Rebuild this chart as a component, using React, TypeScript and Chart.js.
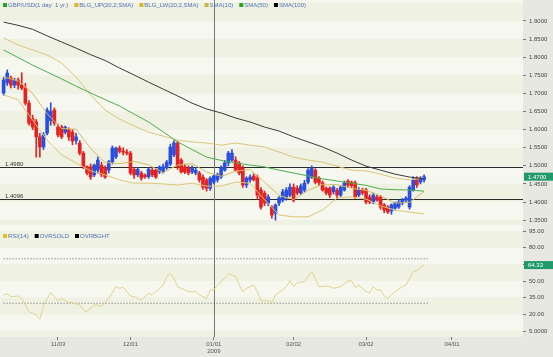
import React, { useEffect, useRef } from 'react';
import { Chart, registerables } from 'chart.js';

Chart.register(...registerables);

// ---------- DATA ----------
// Trading-day index 0 = 13 Oct 2008
const opens = [
  1.701, 1.729, 1.742, 1.723, 1.737, 1.723, 1.715, 1.673, 1.630, 1.621,
  1.580, 1.552, 1.590, 1.625, 1.654, 1.607, 1.607, 1.593, 1.599, 1.593,
  1.570, 1.563, 1.535, 1.497, 1.497, 1.475, 1.488, 1.502, 1.494, 1.488,
  1.511, 1.525, 1.549, 1.540, 1.538, 1.535, 1.490, 1.475, 1.480, 1.474,
  1.470, 1.488, 1.488, 1.483, 1.483, 1.494, 1.505, 1.530, 1.563, 1.516,
  1.497, 1.494, 1.483, 1.480, 1.480, 1.469, 1.461, 1.438, 1.455, 1.461,
  1.469, 1.488, 1.508, 1.516, 1.516, 1.508, 1.494, 1.447, 1.461, 1.472,
  1.466, 1.433, 1.424, 1.397, 1.386, 1.369, 1.397, 1.405, 1.411, 1.419,
  1.441, 1.438, 1.425, 1.433, 1.455, 1.469, 1.488, 1.466, 1.453, 1.438,
  1.438, 1.428, 1.433, 1.419, 1.433, 1.458, 1.455, 1.453, 1.419, 1.433,
  1.433, 1.414, 1.400, 1.414, 1.414, 1.392, 1.386, 1.375, 1.383, 1.386,
  1.397, 1.405, 1.386, 1.433, 1.466, 1.455, 1.461,
];
const highs = [
  1.745, 1.765, 1.748, 1.742, 1.742, 1.757, 1.728, 1.680, 1.640, 1.628,
  1.590, 1.592, 1.660, 1.674, 1.660, 1.615, 1.612, 1.610, 1.605, 1.600,
  1.590, 1.570, 1.540, 1.500, 1.505, 1.505, 1.525, 1.510, 1.500, 1.515,
  1.555, 1.552, 1.555, 1.550, 1.545, 1.540, 1.495, 1.495, 1.485, 1.478,
  1.495, 1.495, 1.492, 1.500, 1.505, 1.515, 1.560, 1.570, 1.568, 1.520,
  1.505, 1.500, 1.500, 1.495, 1.485, 1.475, 1.465, 1.470, 1.475, 1.480,
  1.500, 1.515, 1.540, 1.545, 1.525, 1.512, 1.500, 1.470, 1.475, 1.478,
  1.475, 1.440, 1.430, 1.420, 1.390, 1.395, 1.415, 1.435, 1.440, 1.450,
  1.450, 1.445, 1.450, 1.460, 1.492, 1.500, 1.492, 1.470, 1.458, 1.442,
  1.442, 1.445, 1.438, 1.445, 1.458, 1.462, 1.458, 1.458, 1.440, 1.438,
  1.438, 1.420, 1.425, 1.420, 1.418, 1.396, 1.390, 1.395, 1.400, 1.405,
  1.410, 1.415, 1.445, 1.470, 1.470, 1.470, 1.475,
];
const lows = [
  1.695, 1.722, 1.715, 1.716, 1.712, 1.710, 1.668, 1.612, 1.600, 1.524,
  1.524, 1.545, 1.585, 1.612, 1.612, 1.580, 1.575, 1.588, 1.570, 1.558,
  1.560, 1.530, 1.492, 1.475, 1.462, 1.470, 1.480, 1.470, 1.465, 1.480,
  1.505, 1.520, 1.535, 1.530, 1.530, 1.475, 1.465, 1.470, 1.460, 1.465,
  1.465, 1.470, 1.465, 1.478, 1.480, 1.490, 1.500, 1.525, 1.490, 1.480,
  1.478, 1.475, 1.478, 1.475, 1.455, 1.435, 1.430, 1.432, 1.450, 1.455,
  1.465, 1.485, 1.500, 1.512, 1.485, 1.475, 1.440, 1.440, 1.455, 1.458,
  1.410, 1.380, 1.390, 1.390, 1.355, 1.350, 1.390, 1.400, 1.405, 1.415,
  1.400, 1.420, 1.420, 1.428, 1.450, 1.465, 1.450, 1.445, 1.430, 1.420,
  1.412, 1.422, 1.410, 1.415, 1.430, 1.440, 1.440, 1.410, 1.415, 1.420,
  1.395, 1.395, 1.395, 1.402, 1.380, 1.370, 1.368, 1.366, 1.378, 1.382,
  1.392, 1.398, 1.380, 1.430, 1.440, 1.450, 1.455,
];
const closes = [
  1.737, 1.756, 1.723, 1.735, 1.723, 1.715, 1.673, 1.618, 1.607, 1.580,
  1.552, 1.585, 1.654, 1.650, 1.618, 1.585, 1.580, 1.607, 1.580, 1.568,
  1.580, 1.535, 1.497, 1.480, 1.469, 1.502, 1.516, 1.475, 1.469, 1.511,
  1.549, 1.549, 1.540, 1.538, 1.535, 1.480, 1.475, 1.490, 1.466, 1.470,
  1.491, 1.475, 1.469, 1.497, 1.497, 1.510, 1.552, 1.563, 1.497, 1.483,
  1.483, 1.480, 1.494, 1.488, 1.461, 1.441, 1.438, 1.466, 1.472, 1.475,
  1.494, 1.508, 1.535, 1.535, 1.488, 1.480, 1.447, 1.466, 1.469, 1.461,
  1.419, 1.386, 1.397, 1.414, 1.364, 1.392, 1.411, 1.428, 1.433, 1.441,
  1.405, 1.425, 1.444, 1.452, 1.488, 1.494, 1.455, 1.453, 1.433, 1.425,
  1.419, 1.441, 1.419, 1.441, 1.452, 1.447, 1.445, 1.414, 1.433, 1.425,
  1.400, 1.400, 1.419, 1.405, 1.386, 1.378, 1.372, 1.392, 1.397, 1.400,
  1.405, 1.411, 1.441, 1.461, 1.447, 1.466, 1.470,
];

// Indicator readings (read every 4th trading day)
const lineIdx = [
  0, 4, 8, 12, 16, 20, 24, 28, 32, 36, 40, 44, 48, 52, 56,
  60, 64, 68, 72, 76, 80, 84, 88, 92, 96, 100, 104, 108, 112, 116,
];
const bbUpper = [
  1.853, 1.834, 1.820, 1.806, 1.784, 1.745, 1.696, 1.654, 1.629, 1.610,
  1.593, 1.582, 1.571, 1.566, 1.563, 1.557, 1.563, 1.557, 1.552, 1.538,
  1.524, 1.516, 1.510, 1.499, 1.488, 1.486, 1.477, 1.466, 1.461, 1.466,
];
const bbLower = [
  1.696, 1.682, 1.626, 1.571, 1.530, 1.508, 1.486, 1.475, 1.461, 1.452,
  1.452, 1.450, 1.447, 1.452, 1.444, 1.444, 1.455, 1.452, 1.406, 1.364,
  1.359, 1.359, 1.378, 1.411, 1.414, 1.408, 1.389, 1.378, 1.372, 1.367,
];
const sma10 = [
  1.745, 1.735, 1.700, 1.644, 1.603, 1.601, 1.548, 1.509, 1.506, 1.512,
  1.503, 1.481, 1.502, 1.506, 1.483, 1.471, 1.485, 1.490, 1.455, 1.418,
  1.407, 1.432, 1.449, 1.448, 1.438, 1.432, 1.417, 1.397, 1.399, 1.429,
];
const sma50 = [
  1.820, 1.799, 1.778, 1.759, 1.740, 1.720, 1.701, 1.683, 1.665, 1.643,
  1.621, 1.594, 1.566, 1.545, 1.524, 1.515, 1.508, 1.502, 1.497, 1.488,
  1.480, 1.472, 1.464, 1.458, 1.452, 1.446, 1.436, 1.434, 1.433, 1.430,
];
const sma100 = [
  1.897, 1.888, 1.877, 1.859, 1.842, 1.825, 1.807, 1.791, 1.770, 1.751,
  1.731, 1.712, 1.693, 1.673, 1.657, 1.646, 1.632, 1.621, 1.607, 1.596,
  1.580, 1.566, 1.552, 1.535, 1.516, 1.499, 1.488, 1.477, 1.469, 1.464,
];

const rsiIdx = [
  0, 1, 2, 4, 5, 6, 7, 9, 10, 11, 13, 14, 15, 16, 18, 19, 21, 22, 23, 25,
  26, 27, 29, 31, 32, 33, 35, 36, 37, 38, 40, 41, 43, 44, 45, 46, 47, 48, 50, 51,
  53, 54, 56, 57, 58, 59, 61, 62, 64, 65, 66, 67, 69, 70, 71, 73, 74, 75, 77, 78,
  79, 80, 81, 83, 85, 86, 87, 89, 90, 91, 93, 95, 96, 97, 98, 100, 101, 102, 103, 104,
  105, 106, 107, 108, 110, 111, 113, 114, 115, 116,
];
const rsiVals = [
  37.4, 38.3, 35.9, 36.5, 34.4, 28.4, 22.4, 19.4, 15.5, 28.4, 39.5, 35.9, 32.3, 34.4, 30.5, 30.5, 28.4, 23.9, 22.4, 28.4,
  28.4, 26.9, 34.4, 44.9, 43.4, 44.3, 36.5, 35.9, 34.4, 32.9, 38.9, 37.4, 43.4, 46.4, 53.9, 56.9, 52.4, 44.9, 41.9, 40.4,
  40.4, 37.4, 34.4, 41.9, 41.9, 46.4, 52.4, 56.9, 53.9, 46.4, 40.4, 43.4, 46.4, 40.4, 32.3, 32.3, 30.5, 37.4, 41.9, 44.9,
  50.2, 44.9, 48.5, 49.4, 58.4, 52.4, 44.9, 45.5, 44.9, 43.4, 44.9, 50.0, 50.2, 44.3, 46.4, 40.4, 39.5, 44.9, 41.9, 41.9,
  36.5, 34.4, 37.4, 40.4, 44.9, 46.4, 58.4, 59.2, 62.3, 64.33,
];

const overbought = 70;
const oversold = 30;
const levelValues = [1.498, 1.4096];
const levelLabels = ['1.4980', '1.4096'];

const xTickPos = [15, 35, 58, 80, 100, 123.7];
const xTickLabels = ['11/03', '12/01', '01/01', '02/02', '03/02', '04/01'];
const yearTickPos = 58;
const yearLabel = '2009';

const priceTicks = [1.35, 1.4, 1.45, 1.5, 1.55, 1.6, 1.65, 1.7, 1.75, 1.8, 1.85, 1.9];
const priceTickLabels = ['1.3500', '1.4000', '1.4500', '1.5000', '1.5500', '1.6000', '1.6500', '1.7000', '1.7500', '1.8000', '1.8500', '1.9000'];
const rsiTicks = [5, 20, 35, 50, 65, 80, 95];
const rsiTickLabels = ['5.0000', '20.00', '35.00', '50.00', '65.00', '80.00', '95.00'];

const priceLegend = ['GBP/USD(1 day  1 yr.)', 'BLG_UP(20,2,SMA)', 'BLG_LW(20,2,SMA)', 'SMA(10)', 'SMA(50)', 'SMA(100)'];
const rsiLegend = ['RSI(14)', 'OVRSOLD', 'OVRBGHT'];

// ---------- STYLE ----------
const FONT = "'Liberation Sans', Arial, sans-serif";
const UP = '#2a4fe0';
const DOWN = '#e42222';
const GOLD = '#dcc679';
const GOLD10 = '#d4bd62';
const GREEN = '#4cb04c';
const DARK = '#3a3a3a';
const RSI_COL = '#e2d48e';
const OUTER = '#e8e8e2';
const BAND_A = '#eff1e3';
const BAND_B = '#f6f7ee';
const LEG_TEXT = '#4f74b8';
const BOX = '#22996b';

const priceLegendColors = ['#22a622', '#d8b52a', '#d8b52a', '#c9b444', '#22a622', '#000000'];
const rsiLegendColors = ['#e0c020', '#000000', '#000000'];

const noPad = (s: any) => {
  s.paddingTop = 0;
  s.paddingBottom = 0;
  s.paddingLeft = 0;
  s.paddingRight = 0;
};

export default function App() {
  const ref = useRef<HTMLCanvasElement>(null);

  useEffect(() => {
    document.body.style.margin = '0';
    const canvas = ref.current!;
    const candleColors = closes.map((c, i) => (c >= opens[i] ? UP : DOWN));
    const pts = (vals: number[]) => vals.map((v, k) => ({ x: lineIdx[k], y: v }));

    const decor = {
      id: 'decor',
      beforeDraw(chart: any) {
        const { ctx, chartArea: ca, scales } = chart;
        const y = scales.y;
        const y2 = scales.y2;
        const x = scales.x;
        ctx.save();
        ctx.fillStyle = OUTER;
        ctx.fillRect(0, 0, chart.width, chart.height);
        for (let k = 0; k < 20; k++) {
          const lo = 1.3 + k * 0.05;
          const hi = lo + 0.05;
          const top = Math.max(y.top, y.getPixelForValue(hi));
          const bot = Math.min(y.bottom, y.getPixelForValue(lo));
          if (bot > top) {
            ctx.fillStyle = k % 2 === 0 ? BAND_A : BAND_B;
            ctx.fillRect(ca.left, top, ca.right - ca.left, bot - top);
          }
        }
        for (let k = 0; k < 10; k++) {
          const lo = -10 + k * 15;
          const hi = lo + 15;
          const top = Math.max(y2.top, y2.getPixelForValue(hi));
          const bot = Math.min(y2.bottom, y2.getPixelForValue(lo));
          if (bot > top) {
            ctx.fillStyle = k % 2 === 0 ? BAND_A : BAND_B;
            ctx.fillRect(ca.left, top, ca.right - ca.left, bot - top);
          }
        }
        ctx.strokeStyle = '#2a2a2a';
        ctx.lineWidth = 1;
        ctx.font = `6px ${FONT}`;
        ctx.fillStyle = '#333';
        levelValues.forEach((v, k) => {
          const py = Math.round(y.getPixelForValue(v)) + 0.5;
          ctx.beginPath();
          ctx.moveTo(ca.left, py);
          ctx.lineTo(ca.right, py);
          ctx.stroke();
          ctx.textBaseline = 'alphabetic';
          ctx.fillText(levelLabels[k], ca.left + 5, py - 2);
        });
        const vx = Math.round(x.getPixelForValue(yearTickPos)) + 0.5;
        ctx.strokeStyle = '#777';
        ctx.beginPath();
        ctx.moveTo(vx, ca.top);
        ctx.lineTo(vx, ca.bottom);
        ctx.stroke();
        ctx.restore();
      },
      afterDraw(chart: any) {
        const { ctx, chartArea: ca, scales } = chart;
        const y = scales.y;
        const y2 = scales.y2;
        ctx.save();
        ctx.font = `6px ${FONT}`;
        ctx.textBaseline = 'middle';
        const drawLegend = (labels: string[], colors: string[], top: number) => {
          let lx = 3;
          labels.forEach((lab, k) => {
            ctx.fillStyle = colors[k];
            ctx.fillRect(lx, top - 2, 4, 4);
            ctx.fillStyle = LEG_TEXT;
            ctx.fillText(lab, lx + 5, top);
            lx += 5 + ctx.measureText(lab).width + 6;
          });
        };
        drawLegend(priceLegend, priceLegendColors, 5);
        drawLegend(rsiLegend, rsiLegendColors, y2.top + 11);
        const box = (py: number, text: string) => {
          ctx.fillStyle = BOX;
          ctx.fillRect(ca.right + 1, py - 4, chart.width - ca.right - 1, 8);
          ctx.fillStyle = '#ffffff';
          ctx.fillText(text, ca.right + 5, py + 0.5);
        };
        box(y.getPixelForValue(closes[closes.length - 1]), closes[closes.length - 1].toFixed(4));
        box(y2.getPixelForValue(rsiVals[rsiVals.length - 1]), rsiVals[rsiVals.length - 1].toFixed(2));
        ctx.restore();
      },
    };

    const tickFont = { size: 6, family: FONT };

    const chart = new Chart(canvas, {
      type: 'line',
      data: {
        datasets: [
          { type: 'line', label: 'SMA(100)', data: pts(sma100), borderColor: DARK, borderWidth: 1, pointRadius: 0, yAxisID: 'y', order: 1 },
          { type: 'line', label: 'SMA(50)', data: pts(sma50), borderColor: GREEN, borderWidth: 1, pointRadius: 0, yAxisID: 'y', order: 2 },
          { type: 'line', label: 'SMA(10)', data: pts(sma10), borderColor: GOLD10, borderWidth: 1, pointRadius: 0, yAxisID: 'y', order: 3 },
          { type: 'line', label: 'BLG_UP', data: pts(bbUpper), borderColor: GOLD, borderWidth: 1, pointRadius: 0, yAxisID: 'y', order: 4 },
          { type: 'line', label: 'BLG_LW', data: pts(bbLower), borderColor: GOLD, borderWidth: 1, pointRadius: 0, yAxisID: 'y', order: 5 },
          {
            type: 'bar', label: 'body',
            data: opens.map((o, i) => ({ x: i, y: [o, closes[i]] })),
            backgroundColor: candleColors, borderWidth: 0, barThickness: 3, minBarLength: 1,
            grouped: false, yAxisID: 'y', order: 8,
          },
          {
            type: 'bar', label: 'wick',
            data: lows.map((l, i) => ({ x: i, y: [l, highs[i]] })),
            backgroundColor: candleColors, borderWidth: 0, barThickness: 1,
            grouped: false, yAxisID: 'y', order: 9,
          },
          { type: 'line', label: 'RSI(14)', data: rsiVals.map((v, k) => ({ x: rsiIdx[k], y: v })), borderColor: RSI_COL, borderWidth: 1, pointRadius: 0, yAxisID: 'y2', order: 1 },
          { type: 'line', label: 'OVRSOLD', data: [{ x: 0, y: oversold }, { x: closes.length, y: oversold }], borderColor: '#666', borderWidth: 1, borderDash: [1, 2], pointRadius: 0, yAxisID: 'y2', order: 6 },
          { type: 'line', label: 'OVRBGHT', data: [{ x: 0, y: overbought }, { x: closes.length, y: overbought }], borderColor: '#666', borderWidth: 1, borderDash: [1, 2], pointRadius: 0, yAxisID: 'y2', order: 6 },
        ] as any,
      },
      options: {
        animation: false,
        responsive: false,
        maintainAspectRatio: false,
        layout: { padding: 0, autoPadding: false },
        plugins: { legend: { display: false }, tooltip: { enabled: false } },
        elements: { line: { tension: 0 } },
        scales: {
          x: {
            type: 'linear', min: -1, max: 143.3, offset: false,
            afterBuildTicks: (s: any) => { s.ticks = xTickPos.map((v) => ({ value: v })); },
            afterFit: (s: any) => { s.height = 20; noPad(s); },
            grid: { drawOnChartArea: false, tickLength: 3, color: '#777', offset: false },
            border: { display: false },
            ticks: {
              font: tickFont, color: '#555', padding: 1, maxRotation: 0, autoSkip: false,
              callback: (_v: any, i: number) => (xTickPos[i] === yearTickPos ? [xTickLabels[i], yearLabel] : xTickLabels[i]),
            },
          },
          y: {
            type: 'linear', position: 'right', stack: 'panels', stackWeight: 225,
            min: 1.3365, max: 1.958,
            afterBuildTicks: (s: any) => { s.ticks = priceTicks.map((v) => ({ value: v })); },
            afterFit: (s: any) => { s.width = 30; noPad(s); },
            grid: { drawOnChartArea: false, tickLength: 3, color: '#777' },
            border: { display: false },
            ticks: { font: tickFont, color: '#444', padding: 3, autoSkip: false, callback: (_v: any, i: number) => priceTickLabels[i] },
          },
          y2: {
            type: 'linear', position: 'right', stack: 'panels', stackWeight: 112,
            min: -0.4, max: 100.4,
            afterBuildTicks: (s: any) => { s.ticks = rsiTicks.map((v) => ({ value: v })); },
            afterFit: (s: any) => { s.width = 30; noPad(s); },
            grid: { drawOnChartArea: false, tickLength: 3, color: '#777' },
            border: { display: false },
            ticks: { font: tickFont, color: '#444', padding: 3, autoSkip: false, callback: (_v: any, i: number) => rsiTickLabels[i] },
          },
        },
      } as any,
      plugins: [decor],
    });
    return () => chart.destroy();
  }, []);

  return (
    <div style={{ width: 553, height: 357 }}>
      <canvas ref={ref} width={553} height={357} style={{ display: 'block' }} />
    </div>
  );
}
